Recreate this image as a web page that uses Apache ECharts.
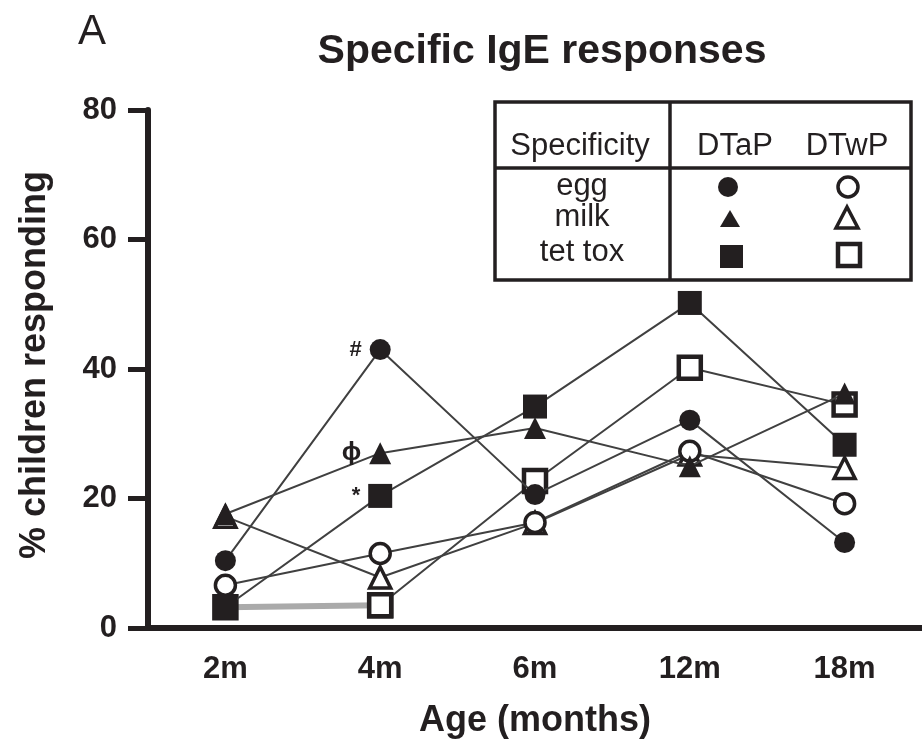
<!DOCTYPE html>
<html>
<head>
<meta charset="utf-8">
<script src="https://cdn.jsdelivr.net/npm/echarts@6/dist/echarts.min.js"></script>
<style>
html, body { margin: 0; padding: 0; background: #fff; }
#main { width: 922px; height: 744px; }
</style>
</head>
<body>
<div id="main"></div>
<script>
// data (% children responding)
var ages = ['2m', '4m', '6m', '12m', '18m'];
var yTicks = [0, 20, 40, 60, 80];
var eggDTaP  = [10.4, 43.0, 20.6, 32.1, 13.2];
var eggDTwP  = [6.6, 11.5, 16.3, 27.3, 19.2];
var milkDTaP = [17.6, 27.0, 30.9, 25.0, 36.2];
var milkDTwP = [17.2, 7.8, 16.2, 26.8, 24.7];
var tetDTaP  = [3.2, 20.4, 34.2, 50.2, 28.3];
var tetDTwP  = [3.2, 3.5, 22.7, 40.2, 34.5];
// marks written next to the 4m DTaP points
var marks4m = { egg: '#', milk: 'ϕ', tet: '*' };

var ink = '#231f20';
var lineCol = '#404040';
var font = '"Liberation Sans", Arial, sans-serif';

function withMark(arr, mark, size) {
  return arr.map(function (v, i) {
    if (i !== 1) return v;
    return {
      value: v,
      label: {
        show: true, formatter: mark, position: 'left', distance: 8,
        color: ink, fontSize: size, fontFamily: font, fontWeight: 'bold'
      }
    };
  });
}

function filled(name, data, symbol, size) {
  return {
    name: name, type: 'line', data: data, symbol: symbol, symbolSize: size,
    lineStyle: { color: lineCol, width: 2 },
    itemStyle: { color: ink, borderWidth: 0 },
    z: 4
  };
}
function hollow(name, data, symbol, size, bw) {
  return {
    name: name, type: 'line', data: data, symbol: symbol, symbolSize: size,
    lineStyle: { color: lineCol, width: 2 },
    itemStyle: { color: '#fff', borderColor: ink, borderWidth: bw },
    z: 3
  };
}

var chart = echarts.init(document.getElementById('main'));

// legend table (top right)
var tx = 495, ty = 102, tw = 416, th = 178, colX = 670, rowY = 168;
var txt = function (s, x, y) {
  return { type: 'text', x: x, y: y, z: 11,
    style: { text: s, fill: ink, font: '31px ' + font, align: 'center', verticalAlign: 'middle' } };
};
var legendGraphic = [
  { type: 'rect', shape: { x: tx, y: ty, width: tw, height: th }, style: { fill: '#fff', stroke: ink, lineWidth: 3.5 }, z: 10 },
  { type: 'line', shape: { x1: colX, y1: ty, x2: colX, y2: ty + th }, style: { stroke: ink, lineWidth: 3.5 }, z: 11 },
  { type: 'line', shape: { x1: tx, y1: rowY, x2: tx + tw, y2: rowY }, style: { stroke: ink, lineWidth: 3.5 }, z: 11 },
  txt('Specificity', 580, 146),
  txt('DTaP', 735, 146),
  txt('DTwP', 847, 146),
  txt('egg', 582, 186),
  txt('milk', 582, 217),
  txt('tet tox', 582, 252),
  { type: 'circle', shape: { cx: 728, cy: 187, r: 10 }, style: { fill: ink }, z: 11 },
  { type: 'circle', shape: { cx: 848, cy: 187, r: 10 }, style: { fill: '#fff', stroke: ink, lineWidth: 3.5 }, z: 11 },
  { type: 'polygon', shape: { points: [[730, 210], [720, 227], [740, 227]] }, style: { fill: ink }, z: 11 },
  { type: 'polygon', shape: { points: [[847, 207], [836, 228], [858, 228]] }, style: { fill: '#fff', stroke: ink, lineWidth: 3.5 }, z: 11 },
  { type: 'rect', shape: { x: 720, y: 245, width: 23, height: 23 }, style: { fill: ink }, z: 11 },
  { type: 'rect', shape: { x: 838, y: 244, width: 22, height: 22 }, style: { fill: '#fff', stroke: ink, lineWidth: 4.5 }, z: 11 },
  // panel letter
  { type: 'text', x: 92, y: 32, z: 11,
    style: { text: 'A', fill: ink, font: '42px ' + font, align: 'center', verticalAlign: 'middle' } }
];

var option = {
  backgroundColor: '#fff',
  animation: false,
  title: {
    text: 'Specific IgE responses', left: 537, top: 26, textAlign: 'center',
    textStyle: { color: ink, fontSize: 41, fontWeight: 'bold', fontFamily: font }
  },
  grid: { left: 148, right: 0, top: 110, bottom: 113 },
  xAxis: {
    type: 'category', data: ages, boundaryGap: true,
    name: 'Age (months)', nameLocation: 'middle', nameGap: 75,
    nameTextStyle: { color: ink, fontSize: 36, fontWeight: 'bold', fontFamily: font },
    axisLine: { lineStyle: { color: ink, width: 6 } },
    axisTick: { alignWithLabel: true, length: 17, lineStyle: { color: ink, width: 5 } },
    axisLabel: { color: ink, fontSize: 31, fontWeight: 'bold', fontFamily: font, margin: 26 },
    splitLine: { show: false }
  },
  yAxis: {
    type: 'value', min: yTicks[0], max: yTicks[yTicks.length - 1], interval: 20,
    name: '% children responding', nameLocation: 'middle', nameGap: 95,
    nameTextStyle: { color: ink, fontSize: 36, fontWeight: 'bold', fontFamily: font, padding: [0, 0, 0, 8] },
    axisLine: { show: true, lineStyle: { color: ink, width: 6 } },
    axisTick: { show: true, length: 20, lineStyle: { color: ink, width: 5 } },
    axisLabel: { color: ink, fontSize: 31, fontWeight: 'bold', fontFamily: font, margin: 31 },
    splitLine: { show: false }
  },
  graphic: legendGraphic,
  series: [
    // gray 2m-4m segment for tet tox DTwP
    {
      name: 'tet tox DTwP 2-4', type: 'line', data: tetDTwP.slice(0, 2),
      symbol: 'rect', symbolSize: 22,
      lineStyle: { color: '#aaaaaa', width: 6 },
      itemStyle: { color: '#fff', borderColor: ink, borderWidth: 4.5 },
      z: 2
    },
    hollow('tet tox DTwP', ['-'].concat(tetDTwP.slice(1)), 'rect', 22, 4.5),
    hollow('milk DTwP', milkDTwP, 'triangle', 21, 3.5),
    hollow('egg DTwP', eggDTwP, 'circle', 20, 3.5),
    filled('egg DTaP', withMark(eggDTaP, marks4m.egg, 22), 'circle', 21),
    filled('milk DTaP', withMark(milkDTaP, marks4m.milk, 26), 'triangle', 22),
    filled('tet tox DTaP', withMark(tetDTaP, marks4m.tet, 22), 'rect', 24)
  ]
};
chart.setOption(option);
</script>
</body>
</html>
